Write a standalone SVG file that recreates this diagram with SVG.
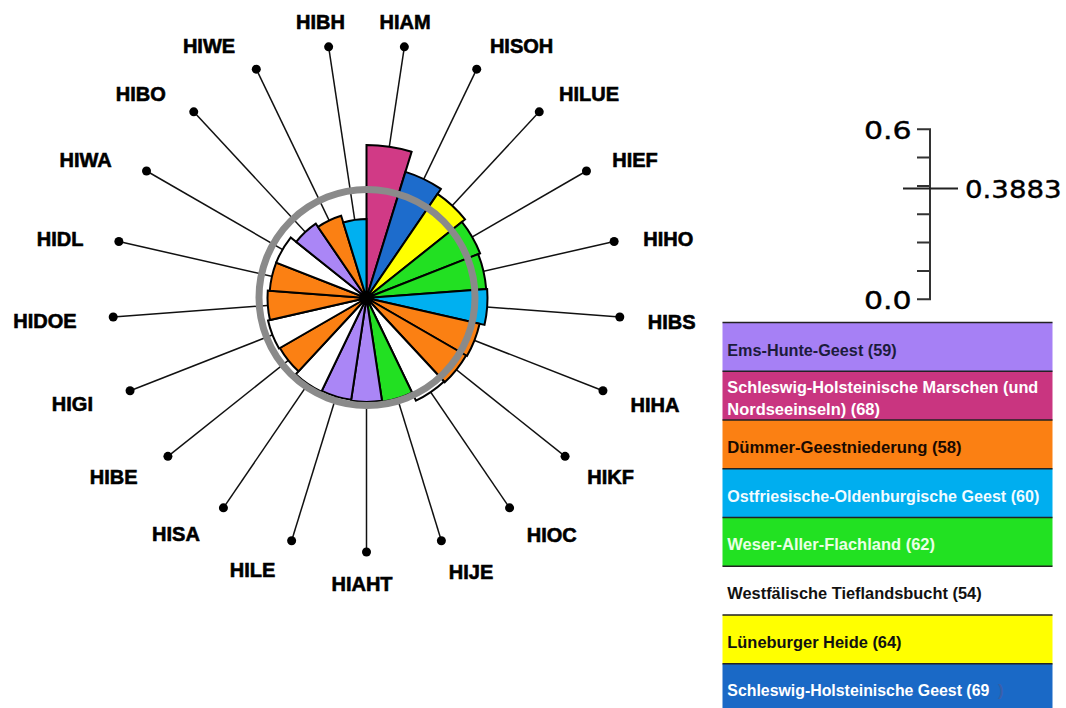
<svg xmlns="http://www.w3.org/2000/svg" width="1066" height="708" viewBox="0 0 1066 708">
<style>
.bar{stroke:#000;stroke-width:2;stroke-linejoin:miter}
.mag{fill:#d13a86}.blu{fill:#1d6ccc}.yel{fill:#ffff00}.grn{fill:#22e022}.cya{fill:#00b0f0}.ora{fill:#fb8013}.pur{fill:#aa86f6}.wht{fill:#fff}
.lbl{font-family:"Liberation Sans",Arial,sans-serif;font-weight:bold;font-size:20px;fill:#000;text-anchor:middle;stroke:#000;stroke-width:0.6}
.spoke{stroke:#111;stroke-width:1.5}
.dot{fill:#000}
.leg{font-family:"Liberation Sans",Arial,sans-serif;font-weight:bold;font-size:16.5px}
.sep{stroke:#222;stroke-width:1.5}
.scl{font-family:"DejaVu Sans",Verdana,sans-serif;font-size:25px;fill:#000;stroke:#000;stroke-width:0.4}
.axis{stroke:#333;stroke-width:2;fill:none}
</style>
<rect width="1066" height="708" fill="#fff"/>
<g id="connectors">
<line class="spoke" x1="366.5" y1="298" x2="404.36" y2="46.84"/>
<line class="spoke" x1="366.5" y1="298" x2="476.71" y2="69.15"/>
<line class="spoke" x1="366.5" y1="298" x2="539.26" y2="111.81"/>
<line class="spoke" x1="366.5" y1="298" x2="586.47" y2="171"/>
<line class="spoke" x1="366.5" y1="298" x2="614.13" y2="241.48"/>
<line class="spoke" x1="366.5" y1="298" x2="619.79" y2="316.98"/>
<line class="spoke" x1="366.5" y1="298" x2="602.94" y2="390.8"/>
<line class="spoke" x1="366.5" y1="298" x2="565.08" y2="456.37"/>
<line class="spoke" x1="366.5" y1="298" x2="509.58" y2="507.86"/>
<line class="spoke" x1="366.5" y1="298" x2="441.37" y2="540.71"/>
<line class="spoke" x1="366.5" y1="298" x2="366.5" y2="552"/>
<line class="spoke" x1="366.5" y1="298" x2="291.63" y2="540.71"/>
<line class="spoke" x1="366.5" y1="298" x2="223.42" y2="507.86"/>
<line class="spoke" x1="366.5" y1="298" x2="167.92" y2="456.37"/>
<line class="spoke" x1="366.5" y1="298" x2="130.06" y2="390.8"/>
<line class="spoke" x1="366.5" y1="298" x2="113.21" y2="316.98"/>
<line class="spoke" x1="366.5" y1="298" x2="118.87" y2="241.48"/>
<line class="spoke" x1="366.5" y1="298" x2="146.53" y2="171"/>
<line class="spoke" x1="366.5" y1="298" x2="193.74" y2="111.81"/>
<line class="spoke" x1="366.5" y1="298" x2="256.29" y2="69.15"/>
<line class="spoke" x1="366.5" y1="298" x2="328.64" y2="46.84"/>
<circle class="dot" cx="404.36" cy="46.84" r="4.5"/>
<circle class="dot" cx="476.71" cy="69.15" r="4.5"/>
<circle class="dot" cx="539.26" cy="111.81" r="4.5"/>
<circle class="dot" cx="586.47" cy="171" r="4.5"/>
<circle class="dot" cx="614.13" cy="241.48" r="4.5"/>
<circle class="dot" cx="619.79" cy="316.98" r="4.5"/>
<circle class="dot" cx="602.94" cy="390.8" r="4.5"/>
<circle class="dot" cx="565.08" cy="456.37" r="4.5"/>
<circle class="dot" cx="509.58" cy="507.86" r="4.5"/>
<circle class="dot" cx="441.37" cy="540.71" r="4.5"/>
<circle class="dot" cx="366.5" cy="552" r="4.5"/>
<circle class="dot" cx="291.63" cy="540.71" r="4.5"/>
<circle class="dot" cx="223.42" cy="507.86" r="4.5"/>
<circle class="dot" cx="167.92" cy="456.37" r="4.5"/>
<circle class="dot" cx="130.06" cy="390.8" r="4.5"/>
<circle class="dot" cx="113.21" cy="316.98" r="4.5"/>
<circle class="dot" cx="118.87" cy="241.48" r="4.5"/>
<circle class="dot" cx="146.53" cy="171" r="4.5"/>
<circle class="dot" cx="193.74" cy="111.81" r="4.5"/>
<circle class="dot" cx="256.29" cy="69.15" r="4.5"/>
<circle class="dot" cx="328.64" cy="46.84" r="4.5"/>
</g>
<g id="HIAM"><path class="bar mag" d="M366.5,298 L366.5,145 A153,153 0 0 1 411.6,151.8 Z"/><text class="lbl" x="405" y="29">HIAM</text></g>
<g id="HISOH"><path class="bar blu" d="M366.5,298 L405.41,171.86 A132,132 0 0 1 440.86,188.94 Z"/><text class="lbl" x="521.6" y="53">HISOH</text></g>
<g id="HILUE"><path class="bar yel" d="M366.5,298 L437.48,193.89 A126,126 0 0 1 465.01,219.44 Z"/><text class="lbl" x="589" y="100.5">HILUE</text></g>
<g id="HIEF"><path class="bar grn" d="M366.5,298 L461.88,221.93 A122,122 0 0 1 480.07,253.43 Z"/><text class="lbl" x="635" y="166.5">HIEF</text></g>
<g id="HIHO"><path class="bar grn" d="M366.5,298 L478.2,254.16 A120,120 0 0 1 486.16,289.03 Z"/><text class="lbl" x="668.3" y="245.5">HIHO</text></g>
<g id="HIBS"><path class="bar cya" d="M366.5,298 L487.16,288.96 A121,121 0 0 1 484.47,324.92 Z"/><text class="lbl" x="671.7" y="329">HIBS</text></g>
<g id="HIHA"><path class="bar ora" d="M366.5,298 L479.59,323.81 A116,116 0 0 1 466.96,356 Z"/><text class="lbl" x="655" y="412">HIHA</text></g>
<g id="HIKF"><path class="bar ora" d="M366.5,298 L466.09,355.5 A115,115 0 0 1 444.72,382.3 Z"/><text class="lbl" x="610.7" y="484">HIKF</text></g>
<g id="HIOC"><path class="bar wht" d="M366.5,298 L444.04,381.57 A114,114 0 0 1 415.96,400.71 Z"/><text class="lbl" x="551.7" y="541.5">HIOC</text></g>
<g id="HIJE"><path class="bar grn" d="M366.5,298 L412.06,392.6 A105,105 0 0 1 382.15,401.83 Z"/><text class="lbl" x="471" y="579">HIJE</text></g>
<g id="HIAHT"><path class="bar pur" d="M366.5,298 L382,400.84 A104,104 0 0 1 351,400.84 Z"/><text class="lbl" x="362" y="590.5">HIAHT</text></g>
<g id="HILE"><path class="bar pur" d="M366.5,298 L351.15,399.85 A103,103 0 0 1 321.81,390.8 Z"/><text class="lbl" x="252.5" y="577">HILE</text></g>
<g id="HISA"><path class="bar wht" d="M366.5,298 L321.38,391.7 A104,104 0 0 1 295.76,374.24 Z"/><text class="lbl" x="176" y="540.5">HISA</text></g>
<g id="HIBE"><path class="bar ora" d="M366.5,298 L298.48,371.31 A100,100 0 0 1 279.9,348 Z"/><text class="lbl" x="113.6" y="484">HIBE</text></g>
<g id="HIGI"><path class="bar wht" d="M366.5,298 L279.03,348.5 A101,101 0 0 1 268.03,320.47 Z"/><text class="lbl" x="72.4" y="410.5">HIGI</text></g>
<g id="HIDOE"><path class="bar ora" d="M366.5,298 L269.98,320.03 A99,99 0 0 1 267.78,290.6 Z"/><text class="lbl" x="45" y="328">HIDOE</text></g>
<g id="HIDL"><path class="bar ora" d="M366.5,298 L269.77,290.75 A97,97 0 0 1 276.21,262.56 Z"/><text class="lbl" x="60.2" y="245.5">HIDL</text></g>
<g id="HIWA"><path class="bar wht" d="M366.5,298 L276.21,262.56 A97,97 0 0 1 290.66,237.52 Z"/><text class="lbl" x="85.7" y="166.5">HIWA</text></g>
<g id="HIBO"><path class="bar pur" d="M366.5,298 L296.14,241.89 A90,90 0 0 1 315.8,223.64 Z"/><text class="lbl" x="140.8" y="100.5">HIBO</text></g>
<g id="HIWE"><path class="bar ora" d="M366.5,298 L318.05,226.94 A86,86 0 0 1 341.15,215.82 Z"/><text class="lbl" x="209" y="53">HIWE</text></g>
<g id="HIBH"><path class="bar cya" d="M366.5,298 L343.21,222.51 A79,79 0 0 1 366.5,219 Z"/><text class="lbl" x="320.4" y="29">HIBH</text></g>
<g id="mean-circle"><circle cx="367" cy="297.5" r="108" fill="none" stroke="#8a8a8a" stroke-width="7"/></g>
<g id="center"><circle cx="366.5" cy="298" r="7" fill="#000"/></g>
<g id="scale">
<path class="axis" d="M917,129.3 H930 V299.3 H917 M917,157.6 H930 M917,186 H930 M917,214.3 H930 M917,242.6 H930 M917,271 H930"/>
<line x1="903" y1="188.5" x2="958" y2="188.5" stroke="#222" stroke-width="2"/>
<text class="scl" x="864" y="139" textLength="47.7" lengthAdjust="spacingAndGlyphs">0.6</text>
<text class="scl" x="864" y="309" textLength="47.7" lengthAdjust="spacingAndGlyphs">0.0</text>
<text class="scl" x="965" y="197.5" textLength="96.7" lengthAdjust="spacingAndGlyphs">0.3883</text>
</g>
<g id="legend">
<g id="leg-ems"><rect x="722.5" y="322.5" width="330" height="48.8" fill="#a680f5"/><text class="leg" x="727.3" y="356" fill="#1c1c3c" textLength="169.3" lengthAdjust="spacingAndGlyphs">Ems-Hunte-Geest (59)</text></g>
<g id="leg-marsch"><rect x="722.5" y="371.3" width="330" height="48.7" fill="#c93580"/><text class="leg" x="727.3" y="392.5" fill="#fff" textLength="311" lengthAdjust="spacingAndGlyphs">Schleswig-Holsteinische Marschen (und</text><text class="leg" x="727.3" y="415" fill="#fff" textLength="152.7" lengthAdjust="spacingAndGlyphs">Nordseeinseln) (68)</text></g>
<g id="leg-duemmer"><rect x="722.5" y="420" width="330" height="48.8" fill="#fb8013"/><text class="leg" x="727.3" y="452.5" fill="#1a0a00" textLength="234.3" lengthAdjust="spacingAndGlyphs">Dümmer-Geestniederung (58)</text></g>
<g id="leg-ostfries"><rect x="722.5" y="468.8" width="330" height="48.7" fill="#00aeef"/><text class="leg" x="727.3" y="501.5" fill="#f2fbff" textLength="312" lengthAdjust="spacingAndGlyphs">Ostfriesische-Oldenburgische Geest (60)</text></g>
<g id="leg-weser"><rect x="722.5" y="517.5" width="330" height="48.8" fill="#22e122"/><text class="leg" x="727.3" y="549.8" fill="#eaffe6" textLength="207.7" lengthAdjust="spacingAndGlyphs">Weser-Aller-Flachland (62)</text></g>
<g id="leg-westf"><rect x="722.5" y="566.3" width="330" height="48.7" fill="#fff"/><text class="leg" x="727.3" y="598.5" fill="#111" textLength="254.3" lengthAdjust="spacingAndGlyphs">Westfälische Tieflandsbucht (54)</text></g>
<g id="leg-luene"><rect x="722.5" y="615" width="330" height="48.8" fill="#ffff00"/><text class="leg" x="727.3" y="647.5" fill="#111" textLength="174.3" lengthAdjust="spacingAndGlyphs">Lüneburger Heide (64)</text></g>
<g id="leg-geest"><rect x="722.5" y="663.8" width="330" height="44.2" fill="#1a69c6"/><text class="leg" x="727.3" y="695.8" fill="#fff" textLength="262" lengthAdjust="spacingAndGlyphs">Schleswig-Holsteinische Geest (69</text><text class="leg" x="998" y="695.8" fill="#3a5fa8">)</text></g>
<path class="sep" d="M722.5,322.5 H1052.5 M722.5,371.3 H1052.5 M722.5,420 H1052.5 M722.5,468.8 H1052.5 M722.5,517.5 H1052.5 M722.5,566.3 H1052.5 M722.5,615 H1052.5 M722.5,663.8 H1052.5"/>
</g>
</svg>
